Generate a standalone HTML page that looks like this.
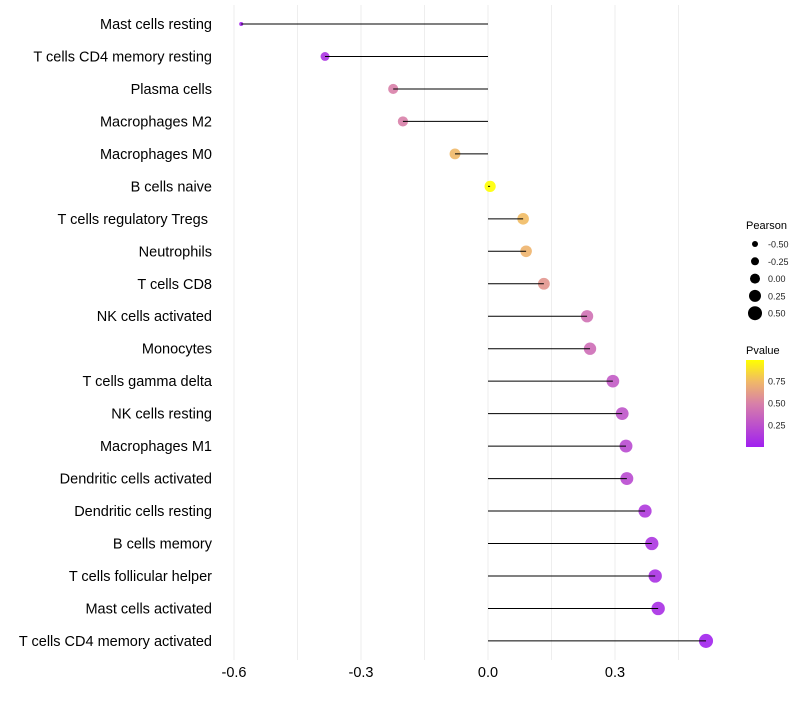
<!DOCTYPE html>
<html><head><meta charset="utf-8"><style>
body{margin:0;background:#fff;font-family:"Liberation Sans",sans-serif}
svg text{font-family:"Liberation Sans",sans-serif}
</style></head><body>
<svg id="chart" width="800" height="700" xmlns="http://www.w3.org/2000/svg">
<defs><linearGradient id="pg" x1="0" y1="1" x2="0" y2="0">
<stop offset="0" stop-color="#A020F0"/><stop offset="0.5" stop-color="#D880A8"/><stop offset="0.75" stop-color="#F0B868"/><stop offset="1" stop-color="#FFFF00"/></linearGradient></defs>
<g id="grid"></g>
<g id="points"></g>
<g id="marks"></g>
<g id="ylabels"></g>
<g id="xticks"></g>
<g id="legS">
<text x="746" y="229" font-size="11">Pearson</text>
</g>
<g>
<text x="746" y="354" font-size="11">Pvalue</text>
<rect x="746" y="360" width="18" height="87" fill="url(#pg)"/>
<g id="legC"></g>
</g>
</svg>
<script>
const categories=["Mast cells resting","T cells CD4 memory resting","Plasma cells","Macrophages M2","Macrophages M0","B cells naive","T cells regulatory  Tregs\u00a0","Neutrophils","T cells CD8","NK cells activated","Monocytes","T cells gamma delta","NK cells resting","Macrophages M1","Dendritic cells activated","Dendritic cells resting","B cells memory","T cells follicular helper","Mast cells activated","T cells CD4 memory activated"];
const pearson=[-0.583,-0.385,-0.224,-0.201,-0.078,0.005,0.083,0.090,0.132,0.234,0.241,0.295,0.317,0.326,0.328,0.371,0.387,0.395,0.402,0.515];
const pvalues=[0.02,0.1,0.5,0.5,0.75,1.0,0.76,0.73,0.6,0.42,0.4,0.3,0.27,0.22,0.22,0.13,0.11,0.09,0.08,0.02];
const xTicks=[-0.6,-0.3,0.0,0.3];
const gridVals=[-0.6,-0.45,-0.3,-0.15,0,0.15,0.3,0.45];
const sizeLegend=[-0.5,-0.25,0,0.25,0.5];
const colorLegend=[0.75,0.5,0.25];
const NS="http://www.w3.org/2000/svg";
const X=v=>488+v*423.3;
const Y=i=>24+i*32.47;
const sizeDom=[-0.6,-0.4,-0.2,0,0.25,0.5,0.6];
const sizeRng=[1.8,4.4,5.1,5.6,6.2,7,7.3];
function R(v){for(let i=1;i<sizeDom.length;i++){if(v<=sizeDom[i]){const t=(v-sizeDom[i-1])/(sizeDom[i]-sizeDom[i-1]);return sizeRng[i-1]+(sizeRng[i]-sizeRng[i-1])*Math.max(0,t)}}return sizeRng[sizeRng.length-1]}
const RL=v=>4.5+4*v;
function lerp(a,b,t){return Math.round(a+(b-a)*t)}
function col(p){const s=[[0,[160,32,240]],[0.5,[216,128,168]],[0.75,[240,184,104]],[1,[255,255,0]]];
for(let i=1;i<s.length;i++){if(p<=s[i][0]){const t=(p-s[i-1][0])/(s[i][0]-s[i-1][0]);const a=s[i-1][1],b=s[i][1];return `rgb(${lerp(a[0],b[0],t)},${lerp(a[1],b[1],t)},${lerp(a[2],b[2],t)})`}}return "rgb(255,255,0)"}
function mk(tag,attrs,parent){const e=document.createElementNS(NS,tag);for(const k in attrs)e.setAttribute(k,attrs[k]);parent.appendChild(e);return e}
const grid=document.getElementById('grid'),marks=document.getElementById('marks'),pts=document.getElementById('points'),yl=document.getElementById('ylabels'),xt=document.getElementById('xticks');
gridVals.forEach(v=>{const l=mk('line',{x1:X(v),x2:X(v),y1:5,y2:660,stroke:'#eeeeee','stroke-width':1},grid);

});
categories.forEach((c,i)=>{
const ci=mk('circle',{cx:X(pearson[i]),cy:Y(i),r:R(pearson[i]),fill:col(pvalues[i]),'fill-opacity':0.9},pts);


const ln=mk('line',{x1:X(0),x2:X(pearson[i]),y1:Y(i),y2:Y(i),stroke:'#000','stroke-width':1},marks);


const t=mk('text',{x:212,y:Y(i)+5,'text-anchor':'end','font-size':14.5,fill:'#000'},yl);t.textContent=c;


});
xTicks.forEach(v=>{const t=mk('text',{x:X(v),y:677,'text-anchor':'middle','font-size':14.5,fill:'#000'},xt);t.textContent=v.toFixed(1);

});
const legS=document.getElementById('legS');
sizeLegend.forEach((v,i)=>{const y=244+i*17.3;
const c=mk('circle',{cx:755,cy:y,r:RL(v)+0.5,fill:'#000'},legS);


const t=mk('text',{x:768,y:y+3.5,'font-size':9,fill:'#222'},legS);t.textContent=v.toFixed(2);

});
const legC=document.getElementById('legC');
colorLegend.forEach(p=>{const y=447-p*88;
const t=mk('text',{x:768,y:y+3.5,'font-size':9,fill:'#222'},legC);t.textContent=p.toFixed(2);

});
</script>
</body></html>
